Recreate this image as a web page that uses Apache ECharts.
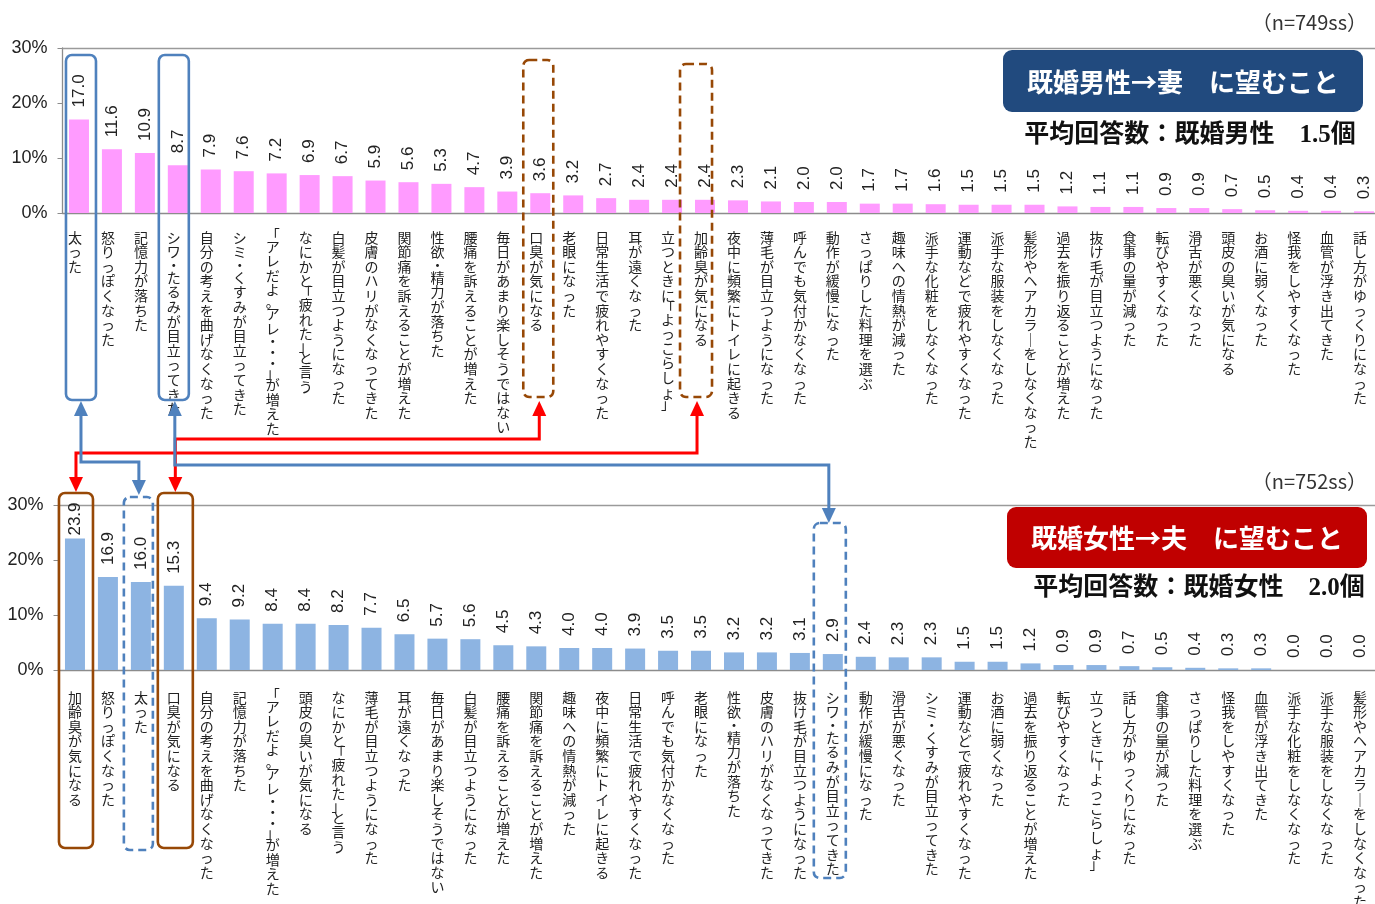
<!DOCTYPE html>
<html><head><meta charset="utf-8">
<script src="https://cdn.jsdelivr.net/npm/echarts@6/dist/echarts.min.js"></script>
<style>html,body{margin:0;padding:0;background:#fff}#c{width:1375px;height:904px}</style>
</head><body><div id="c"></div>
<script>
// ---- data ----
const husbandItems = ['太った','怒りっぽくなった','記憶力が落ちた','シワ・たるみが目立ってきた','自分の考えを曲げなくなった','シミ・くすみが目立ってきた','「アレだよ。アレ・・・」が増えた','なにかと「疲れた」と言う','白髪が目立つようになった','皮膚のハリがなくなってきた','関節痛を訴えることが増えた','性欲・精力が落ちた','腰痛を訴えることが増えた','毎日があまり楽しそうではない','口臭が気になる','老眼になった','日常生活で疲れやすくなった','耳が遠くなった','立つときに「よっこらしょ」','加齢臭が気になる','夜中に頻繁にトイレに起きる','薄毛が目立つようになった','呼んでも気付かなくなった','動作が緩慢になった','さっぱりした料理を選ぶ','趣味への情熱が減った','派手な化粧をしなくなった','運動などで疲れやすくなった','派手な服装をしなくなった','髪形やヘアカラーをしなくなった','過去を振り返ることが増えた','抜け毛が目立つようになった','食事の量が減った','転びやすくなった','滑舌が悪くなった','頭皮の臭いが気になる','お酒に弱くなった','怪我をしやすくなった','血管が浮き出てきた','話し方がゆっくりになった'];
const husbandValues = [17.0,11.6,10.9,8.7,7.9,7.6,7.2,6.9,6.7,5.9,5.6,5.3,4.7,3.9,3.6,3.2,2.7,2.4,2.4,2.4,2.3,2.1,2.0,2.0,1.7,1.7,1.6,1.5,1.5,1.5,1.2,1.1,1.1,0.9,0.9,0.7,0.5,0.4,0.4,0.3];
const wifeItems = ['加齢臭が気になる','怒りっぽくなった','太った','口臭が気になる','自分の考えを曲げなくなった','記憶力が落ちた','「アレだよ。アレ・・・」が増えた','頭皮の臭いが気になる','なにかと「疲れた」と言う','薄毛が目立つようになった','耳が遠くなった','毎日があまり楽しそうではない','白髪が目立つようになった','腰痛を訴えることが増えた','関節痛を訴えることが増えた','趣味への情熱が減った','夜中に頻繁にトイレに起きる','日常生活で疲れやすくなった','呼んでも気付かなくなった','老眼になった','性欲・精力が落ちた','皮膚のハリがなくなってきた','抜け毛が目立つようになった','シワ・たるみが目立ってきた','動作が緩慢になった','滑舌が悪くなった','シミ・くすみが目立ってきた','運動などで疲れやすくなった','お酒に弱くなった','過去を振り返ることが増えた','転びやすくなった','立つときに「よっこらしょ」','話し方がゆっくりになった','食事の量が減った','さっぱりした料理を選ぶ','怪我をしやすくなった','血管が浮き出てきた','派手な化粧をしなくなった','派手な服装をしなくなった','髪形やヘアカラーをしなくなった'];
const wifeValues = [23.9,16.9,16.0,15.3,9.4,9.2,8.4,8.4,8.2,7.7,6.5,5.7,5.6,4.5,4.3,4.0,4.0,3.9,3.5,3.5,3.2,3.2,3.1,2.9,2.4,2.3,2.3,1.5,1.5,1.2,0.9,0.9,0.7,0.5,0.4,0.3,0.3,0.0,0.0,0.0];
const yMin = 0, yMax = 30, yStep = 10;
const topSample = '（n=749ss）';
const bottomSample = '（n=752ss）';
const topTitle = '既婚男性→妻　に望むこと';
const bottomTitle = '既婚女性→夫　に望むこと';
const topAvg = '平均回答数：既婚男性　1.5個';
const bottomAvg = '平均回答数：既婚女性　2.0個';

// ---- chart ----
const JP = '"Noto Sans CJK JP", sans-serif';
const LAT = '"Liberation Sans", Arial, sans-serif';
const vert = s => s.replace(/ー/g, '｜').split('').map(ch => {
  if ('「」。、'.includes(ch)) return '{p|' + ch + '}';
  if (ch === '・') return '{d|' + ch + '}';
  return ch;
}).join('\n');
const labelRich = {
  p: { fontFamily: JP, fontSize: 14, lineHeight: 9, color: '#222' },
  d: { fontFamily: JP, fontSize: 14, lineHeight: 11, color: '#222' }
};

function xAxes(grid, items, pad, margin) {
  return [
    { gridIndex: grid, type: 'category', data: items, position: 'bottom',
      axisLine: { lineStyle: { color: '#8c8c8c', width: 1.3 } }, axisTick: { show: false },
      axisLabel: { interval: 0, formatter: vert, rich: labelRich, fontFamily: JP, fontSize: 14, lineHeight: 14.6,
        color: '#222', verticalAlign: 'top', margin: margin, padding: pad } },
    { gridIndex: grid, type: 'category', data: items, position: 'top',
      axisLine: { lineStyle: { color: '#9a9a9a', width: 1.3 } }, axisTick: { show: false }, axisLabel: { show: false } }
  ];
}
function yAxis(grid) {
  return { gridIndex: grid, type: 'value', min: yMin, max: yMax, interval: yStep,
    axisLine: { show: true, lineStyle: { color: '#8c8c8c', width: 1.3 } },
    axisTick: { show: true, length: 5, lineStyle: { color: '#8c8c8c' } },
    splitLine: { show: false },
    axisLabel: { formatter: '{value}%', fontSize: 18, fontFamily: LAT, color: '#222', margin: 15 } };
}
function barSeries(xi, yi, values, color) {
  return { type: 'bar', xAxisIndex: xi, yAxisIndex: yi, barWidth: 20,
    itemStyle: { color: color },
    data: values.map(v => v > 22 ? { value: v, label: { distance: 3 } } : v),
    label: { show: true, position: 'top', rotate: 90, align: 'left', verticalAlign: 'middle',
      distance: 12, fontSize: 17, fontFamily: LAT, color: '#222',
      formatter: p => Number(p.value).toFixed(1) } };
}

const chart = echarts.init(document.getElementById('c'));
chart.setOption({
  animation: false,
  grid: [
    { left: 62.5, top: 48, width: 1318, height: 165, outerBoundsMode: 'none', containLabel: false },
    { left: 58.5, top: 505, width: 1318, height: 165, outerBoundsMode: 'none', containLabel: false }
  ],
  xAxis: [...xAxes(0, husbandItems, [0, 8, 0, 0], 17), ...xAxes(1, wifeItems, [0, 0, 0, 0], 20)],
  yAxis: [yAxis(0), yAxis(1)],
  series: [barSeries(0, 0, husbandValues, '#FF9BFF'), barSeries(2, 1, wifeValues, '#8DB4E2')]
});

// ---- annotations ----
const BLUE = '#4F81BD', BROWN = '#974806', RED = '#FF0000';
const els = [];
function cx(axis, name) { return chart.convertToPixel({ xAxisIndex: axis }, name); }
function box(axis, name, dx, w, y1, y2, color, dashed) {
  const c = cx(axis, name) + dx;
  els.push({ type: 'rect', z: 100, shape: { x: c - w / 2, y: y1, width: w, height: y2 - y1, r: 6 },
    style: { fill: 'none', stroke: color, lineWidth: 2.6, lineDash: dashed ? [8, 5] : null } });
  return c;
}
function head(x, tip, dir, color) {
  const b = tip + dir * 15;
  els.push({ type: 'polygon', z: 101, shape: { points: [[x, tip], [x - 7, b], [x + 7, b]] }, style: { fill: color } });
}
function connect(xTop, xBot, yMid, yBotTip, color) {
  els.push({ type: 'polyline', z: 101,
    shape: { points: [[xTop, 414], [xTop, yMid], [xBot, yMid], [xBot, yBotTip - 14]] },
    style: { stroke: color, lineWidth: 3, fill: null } });
  head(xTop, 401, 1, color);
  head(xBot, yBotTip, -1, color);
}
// top boxes
const tFat = box(0, '太った', 2, 30, 55, 400, BLUE, false);
const tWr = box(0, 'シワ・たるみが目立ってきた', -4, 30, 55, 400, BLUE, false);
const tBr = box(0, '口臭が気になる', -2, 30, 60, 397, BROWN, true);
const tAg = box(0, '加齢臭が気になる', -9, 32, 64, 397, BROWN, true);
// bottom boxes
const bAg = box(2, '加齢臭が気になる', 1, 34, 493, 848, BROWN, false);
const bFat = box(2, '太った', -2.5, 29, 497, 850, BLUE, true);
const bBr = box(2, '口臭が気になる', 1.5, 35, 493, 848, BROWN, false);
const bWr = box(2, 'シワ・たるみが目立ってきた', -3, 32, 523, 878, BLUE, true);
// connectors
connect(tBr + 1, bBr, 439, 492, RED);
connect(tAg + 1, bAg, 453, 492, RED);
connect(tFat, bFat + 0.5, 462, 495, BLUE);
connect(tWr + 1, bWr - 1, 465, 523, BLUE);

// titles
function titleBlock(sample, sy, bx, by, bw, bh, color, title, avg, ay, ax) {
  els.push({ type: 'text', z: 110, style: { text: sample, x: 1367, y: sy, font: '20px ' + JP, fill: '#333',
    align: 'right', verticalAlign: 'middle', textAlign: 'right', textVerticalAlign: 'middle' } });
  els.push({ type: 'rect', z: 110, shape: { x: bx, y: by, width: bw, height: bh, r: 9 }, style: { fill: color } });
  els.push({ type: 'text', z: 111, style: { text: title, x: bx + bw / 2, y: by + bh / 2 + 1, font: 'bold 26px ' + JP, fill: '#fff',
    align: 'center', verticalAlign: 'middle', textAlign: 'center', textVerticalAlign: 'middle' } });
  els.push({ type: 'rect', z: 109, shape: { x: ax - 175, y: ay - 17, width: 350, height: 34 }, style: { fill: '#fff' } });
  els.push({ type: 'text', z: 111, style: { text: avg, x: ax, y: ay, font: 'bold 25px "Liberation Serif", "Noto Sans CJK JP", serif', fill: '#111',
    align: 'center', verticalAlign: 'middle', textAlign: 'center', textVerticalAlign: 'middle' } });
}
titleBlock(topSample, 22, 1003, 50, 360, 62, '#214A7E', topTitle, topAvg, 136, 1190);
titleBlock(bottomSample, 481, 1007, 507, 360, 61, '#C00000', bottomTitle, bottomAvg, 589, 1199);

chart.setOption({ graphic: { elements: els } });
</script></body></html>
